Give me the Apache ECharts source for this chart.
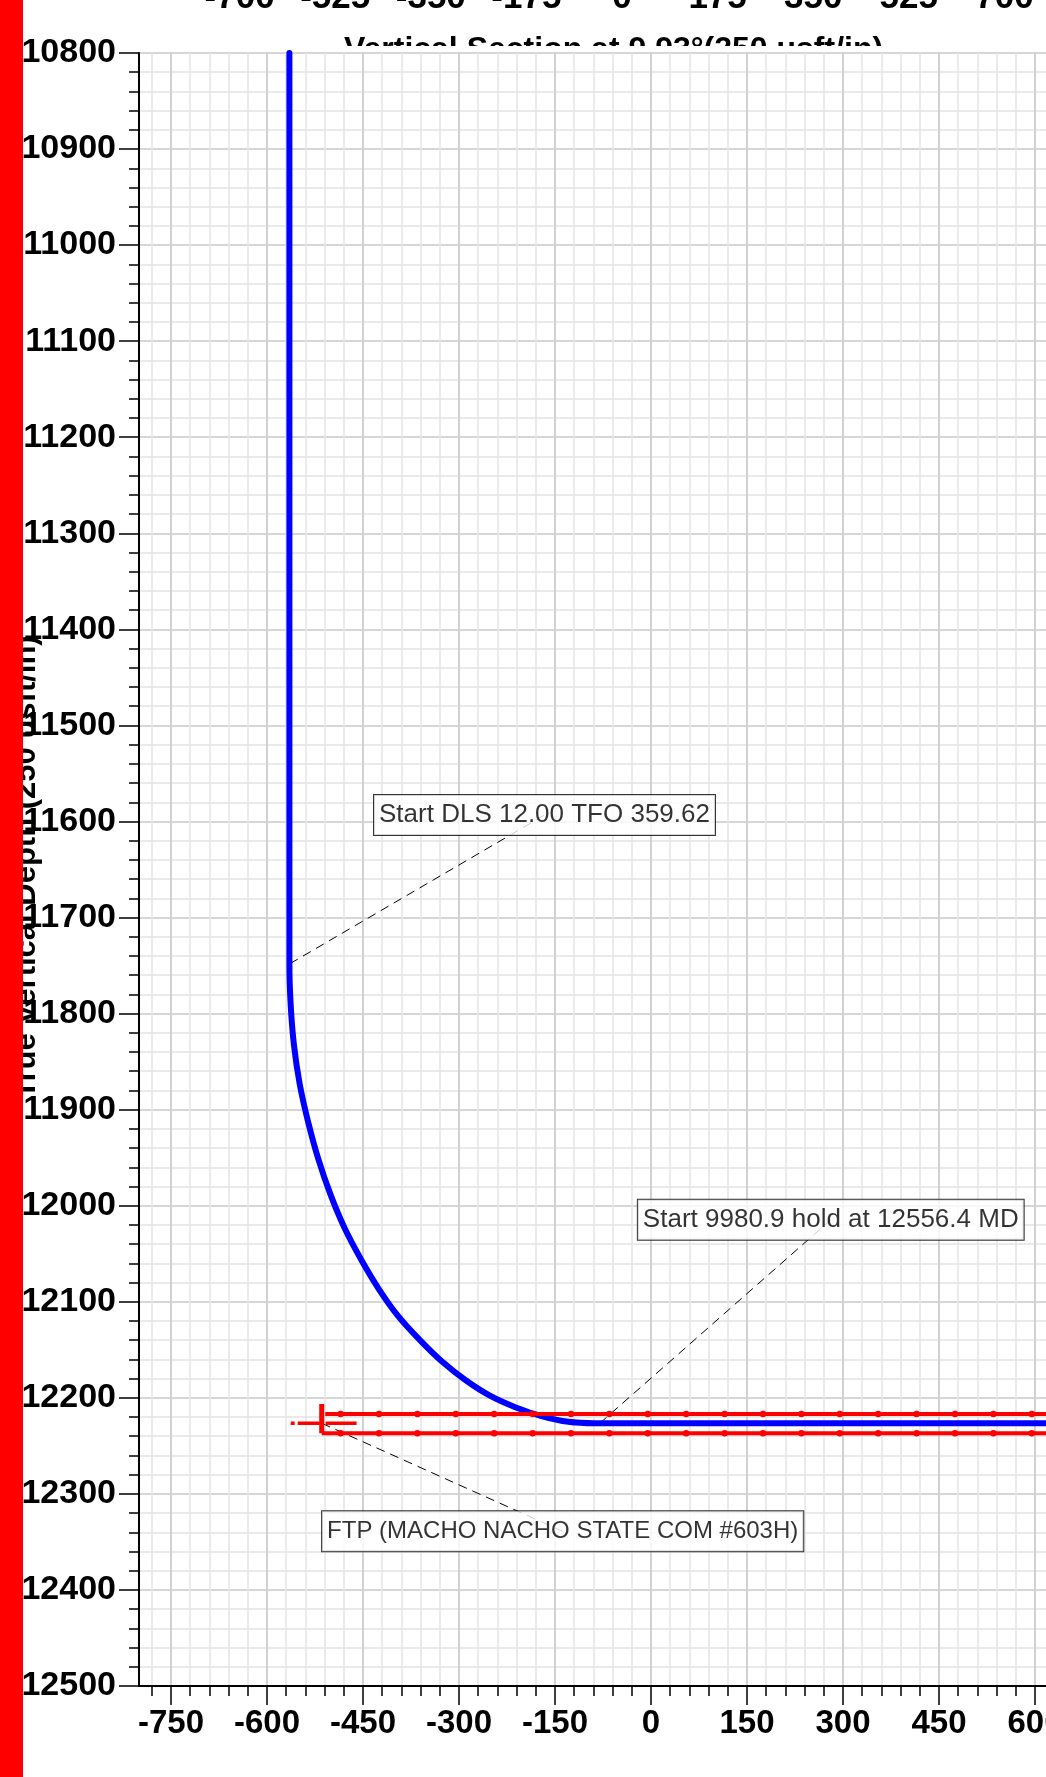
<!DOCTYPE html>
<html><head><meta charset="utf-8">
<script src="https://cdn.jsdelivr.net/npm/echarts@6/dist/echarts.min.js"></script>
<style>html,body{margin:0;padding:0;background:#fff}#c{width:1046px;height:1777px}</style>
</head><body><div id="c"></div>
<script>
const FONT = '"Liberation Sans", Arial, Helvetica, sans-serif';

// ---- data ----
const wellVS  = [-565, -565, -563, -558, -549, -536, -520, -501, -479, -453, -425, -395, -361, -327, -289, -251, -211, -171, -129, -88, 617];
const wellTVD = [10800, 11749, 11791, 11832, 11873, 11912, 11951, 11988, 12023, 12056, 12087, 12115, 12140, 12162, 12182, 12198, 12210, 12219, 12225, 12226.5, 12226.5];

const upperLineVS = [-509, -485, -425, -365, -305, -245, -185, -125, -65, -5, 55, 115, 175, 235, 295, 355, 415, 475, 535, 595, 655];
const lowerLineVS = [-514.5, -485, -425, -365, -305, -245, -185, -125, -65, -5, 55, 115, 175, 235, 295, 355, 415, 475, 535, 595, 655];
const upperLineTVD = 12216.8;
const lowerLineTVD = 12236.9;

const ftpVS = -514.5;
const ftpTVD = 12226.5;
const ftpBarTVD = [12206.4, 12236.9];
const ftpCrossVS = [-563, -460];

const annTexts = ['Start DLS 12.00 TFO 359.62', 'Start 9980.9 hold at 12556.4 MD', 'FTP (MACHO NACHO STATE COM #603H)'];
const annAnchorVS  = [-564, -80, -514.5];
const annAnchorTVD = [11748, 12226.5, 12226.5];
const annBoxVS  = [-166.4, 280.9, -138];
const annBoxTVD = [11593.3, 12014.7, 12339.0];

const xMajorTicks = [-750, -600, -450, -300, -150, 0, 150, 300, 450, 600];
const xMinorTicks = [-780,-750,-720,-690,-660,-630,-600,-570,-540,-510,-480,-450,-420,-390,-360,-330,-300,-270,-240,-210,-180,-150,-120,-90,-60,-30,0,30,60,90,120,150,180,210,240,270,300,330,360,390,420,450,480,510,540,570,600];
const topTicks = [-700, -525, -350, -175, 0, 175, 350, 525, 700];
const topAxisTitle = 'Vertical Section at 9.93°(250 usft/in)';
const yAxisTitle = 'True Vertical Depth (250 usft/in)';

// ---- styles ----
const annFontSizes = [26, 26, 24];
const MAJOR = '#c9c9c9', MINOR = '#e4e4e4';

const chart = echarts.init(document.getElementById('c'), null, {renderer: 'canvas', width: 1046, height: 1777});

const option = {
  animation: false,
  backgroundColor: '#fff',
  grid: [
    {left: 139, right: 0, top: 53, bottom: 91, containLabel: false, outerBoundsMode: 'none'},
    {left: 144, right: -54, top: -300, height: 250, containLabel: false, outerBoundsMode: 'none'}
  ],
  xAxis: [
    { type: 'value', gridIndex: 0, position: 'bottom', min: -800, max: 617.2,
      axisLine: {show: false},
      axisTick: {show: true, customValues: xMinorTicks, length: 10, lineStyle: {color: '#000', width: 1.5}},
      axisLabel: {show: false},
      splitLine: {show: true, lineStyle: {color: MINOR, width: 1.5}} },
    { type: 'value', gridIndex: 0, position: 'bottom', min: -800, max: 617.2,
      axisLine: {show: true, onZero: false, lineStyle: {color: '#000', width: 2}},
      axisTick: {show: true, customValues: xMajorTicks, length: 19, lineStyle: {color: '#000', width: 1.5}},
      axisLabel: {show: true, customValues: xMajorTicks, margin: 21, color: '#000', fontSize: 33, fontWeight: 'bold', fontFamily: FONT,
                  formatter: v => String(v)},
      splitLine: {show: true, lineStyle: {color: MAJOR, width: 1.5}} },
    { type: 'value', gridIndex: 1, position: 'bottom', min: -875, max: 875,
      axisLine: {show: false}, axisTick: {show: false}, splitLine: {show: false},
      axisLabel: {show: true, customValues: topTicks, margin: 31, color: '#000', fontSize: 35, fontWeight: 'bold', fontFamily: FONT,
                  formatter: v => String(v)} }
  ],
  yAxis: [
    { type: 'value', gridIndex: 0, inverse: true, min: 10800, max: 12500, interval: 100, position: 'left',
      axisLine: {show: true, onZero: false, lineStyle: {color: '#000', width: 2}},
      axisTick: {show: true, length: 20, lineStyle: {color: '#000', width: 1.5}},
      minorTick: {show: true, splitNumber: 5, length: 10, lineStyle: {color: '#000', width: 1.5}},
      axisLabel: {margin: 23, color: '#000', fontSize: 34, fontWeight: 'bold', fontFamily: FONT, formatter: v => String(v)},
      splitLine: {show: true, lineStyle: {color: MAJOR, width: 1.5}},
      minorSplitLine: {show: true, lineStyle: {color: MINOR, width: 1.5}} },
    { type: 'value', gridIndex: 1, min: 0, max: 1, show: false }
  ],
  graphic: {
    elements: [
      { type: 'text', z: -2, x: 613.5, y: 34,
        style: {text: topAxisTitle, fontSize: 32, fontWeight: 'bold', fontFamily: FONT, fill: '#000',
                align: 'center', verticalAlign: 'top', textAlign: 'center', textVerticalAlign: 'top'} },
      { type: 'rect', z: -1, shape: {x: 23, y: 46, width: 1023, height: 40}, style: {fill: '#fff'} },
      { type: 'text', z: -1, x: 26, y: 867, rotation: Math.PI / 2,
        style: {text: yAxisTitle, fontSize: 31, fontWeight: 'bold', fontFamily: FONT, fill: '#000',
                align: 'center', verticalAlign: 'middle', textAlign: 'center', textVerticalAlign: 'middle'} },
      { type: 'rect', z: 100, shape: {x: 0, y: 0, width: 23, height: 1777}, style: {fill: '#ff0000'} }
    ]
  },
  series: [
    { type: 'lines', coordinateSystem: 'cartesian2d', xAxisIndex: 1, yAxisIndex: 0, z: 2, silent: true,
      lineStyle: {color: '#000', width: 1, type: [9, 6], opacity: 1, curveness: 0},
      data: annAnchorVS.map((v, i) => ({coords: [[v, annAnchorTVD[i]], [annBoxVS[i], annBoxTVD[i]]]})) },
    { type: 'line', name: 'Well', xAxisIndex: 1, yAxisIndex: 0, z: 3, clip: false, smooth: 0.3,
      showSymbol: false, symbol: 'none',
      lineStyle: {color: '#0000ff', width: 6, cap: 'round', join: 'round'},
      data: wellVS.map((v, i) => [v, wellTVD[i]]) },
    { type: 'line', xAxisIndex: 1, yAxisIndex: 0, z: 4, clip: true,
      symbol: 'circle', showSymbol: true, showAllSymbol: true,
      symbolSize: (val, p) => p.dataIndex === 0 ? 0 : 6.5,
      itemStyle: {color: '#ff0000'}, lineStyle: {color: '#ff0000', width: 4},
      data: upperLineVS.map(v => [v, upperLineTVD]) },
    { type: 'line', xAxisIndex: 1, yAxisIndex: 0, z: 4, clip: true,
      symbol: 'circle', showSymbol: true, showAllSymbol: true,
      symbolSize: (val, p) => p.dataIndex === 0 ? 0 : 6.5,
      itemStyle: {color: '#ff0000'}, lineStyle: {color: '#ff0000', width: 4},
      data: lowerLineVS.map(v => [v, lowerLineTVD]) },
    { type: 'line', xAxisIndex: 1, yAxisIndex: 0, z: 4, symbol: 'none',
      lineStyle: {color: '#ff0000', width: 5, cap: 'butt'},
      data: ftpBarTVD.map(t => [ftpVS, t]) },
    { type: 'line', xAxisIndex: 1, yAxisIndex: 0, z: 4, symbol: 'none',
      lineStyle: {color: '#ff0000', width: 3.5, type: [4, 3, 22, 6, 32, 300]},
      data: ftpCrossVS.map(v => [v, ftpTVD]) },
    { type: 'scatter', xAxisIndex: 1, yAxisIndex: 0, z: 6, symbolSize: 1, silent: true,
      itemStyle: {color: 'rgba(0,0,0,0)'},
      label: {show: true, position: 'inside', color: '#000', fontFamily: FONT,
              backgroundColor: '#fff', borderColor: '#000', borderWidth: 1,
              padding: [6, 5, 4, 5], lineHeight: 30,
              formatter: p => annTexts[p.dataIndex]},
      data: annBoxVS.map((v, i) => ({value: [v, annBoxTVD[i]], label: {fontSize: annFontSizes[i]}})) }
  ]
};
chart.setOption(option);
</script>
</body></html>
